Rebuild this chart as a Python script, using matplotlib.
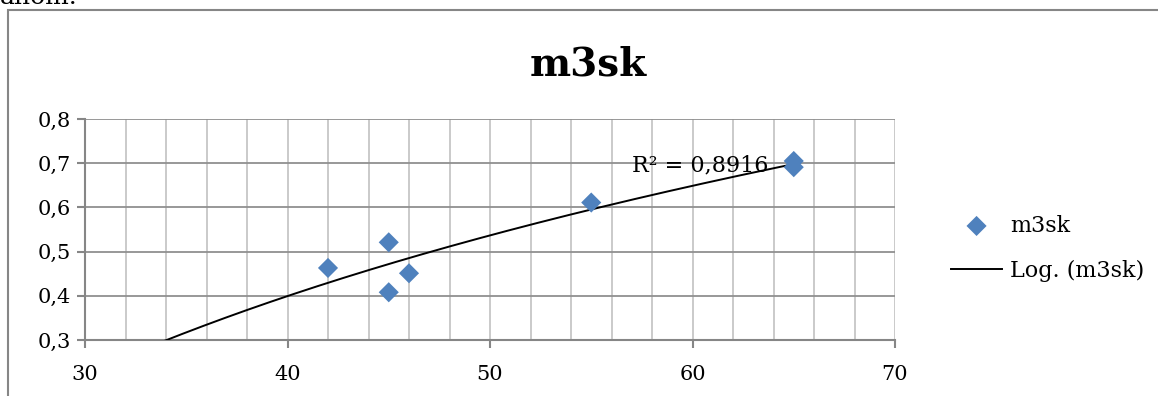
import numpy as np
import matplotlib
matplotlib.use("Agg")
import matplotlib.pyplot as plt
from matplotlib.patches import Rectangle

plt.rcParams['font.family'] = ['DejaVu Serif']

# data
x_vals = [42, 45, 45, 46, 55, 65, 65]
y_vals = [0.463, 0.521, 0.408, 0.451, 0.611, 0.705, 0.691]
series_name = "m3sk"
trend_name = "Log. (m3sk)"
r2_label = "R² = 0,8916"
x_ticks = [30, 40, 50, 60, 70]
y_ticks = [0.3, 0.4, 0.5, 0.6, 0.7, 0.8]

W, H = 1158, 396
fig = plt.figure(figsize=(W / 100, H / 100), dpi=100)

# chart frame (runs off the right and bottom of the picture)
fig.patches.append(Rectangle((8 / W, -0.1), 1.2, 1 - 10 / H + 0.1,
                             transform=fig.transFigure, fill=False,
                             edgecolor="#868686", linewidth=1.5))
fig.text(0.0, 1 - 4 / H, "anom.", fontsize=18, va="baseline", ha="left")

ax = fig.add_axes([85 / W, 1 - 340 / H, 810 / W, 221 / H])

# logarithmic trend line
b, a = np.polyfit(np.log(x_vals), y_vals, 1)
xt = np.linspace(30, max(x_vals), 300)
yt = a + b * np.log(xt)
trend, = ax.plot(xt, yt, color="black", linewidth=1.4, zorder=3)

pts = ax.scatter(x_vals, y_vals, marker="D", s=105, color="#4f81bd",
                 edgecolors="none", zorder=4)

ax.set_xlim(30, 70)
ax.set_ylim(0.3, 0.8)
ax.set_xticks(x_ticks)
ax.set_xticks(np.arange(30, 71, 2), minor=True)
ax.set_yticks(y_ticks)
ax.set_xticklabels([str(t) for t in x_ticks])
ax.set_yticklabels([("%.1f" % t).replace(".", ",") for t in y_ticks])

ax.grid(True, which="minor", axis="x", color="#c6c6c6", linewidth=1.3)
ax.grid(True, which="major", axis="x", color="#c6c6c6", linewidth=1.3)
ax.grid(True, which="major", axis="y", color="#909090", linewidth=1.3)
ax.set_axisbelow(True)

for s in ["top", "right"]:
    ax.spines[s].set_visible(False)
for s in ["left", "bottom"]:
    ax.spines[s].set_color("#868686")
    ax.spines[s].set_linewidth(1.5)

ax.tick_params(axis="both", which="major", length=6, color="#868686",
               width=1.5, labelsize=15, pad=4)
ax.tick_params(axis="x", which="major", pad=12)
ax.tick_params(axis="x", which="minor", length=0)

ax.text(63.75, 0.696, r2_label, fontsize=16, ha="right", va="center", zorder=5)

fig.text(588 / W, 1 - 75 / H, "m3sk", fontsize=28, fontweight="bold",
         ha="center", va="baseline")

fig.legend([pts, trend], [series_name, trend_name], loc="center left",
           bbox_to_anchor=(951 / W, 1 - 248.5 / H),
           bbox_transform=fig.transFigure, frameon=False, fontsize=16,
           handlelength=2.3, handletextpad=0.36, labelspacing=1.05,
           borderpad=0, borderaxespad=0, scatterpoints=1)

fig.savefig("out.png", dpi=100)
